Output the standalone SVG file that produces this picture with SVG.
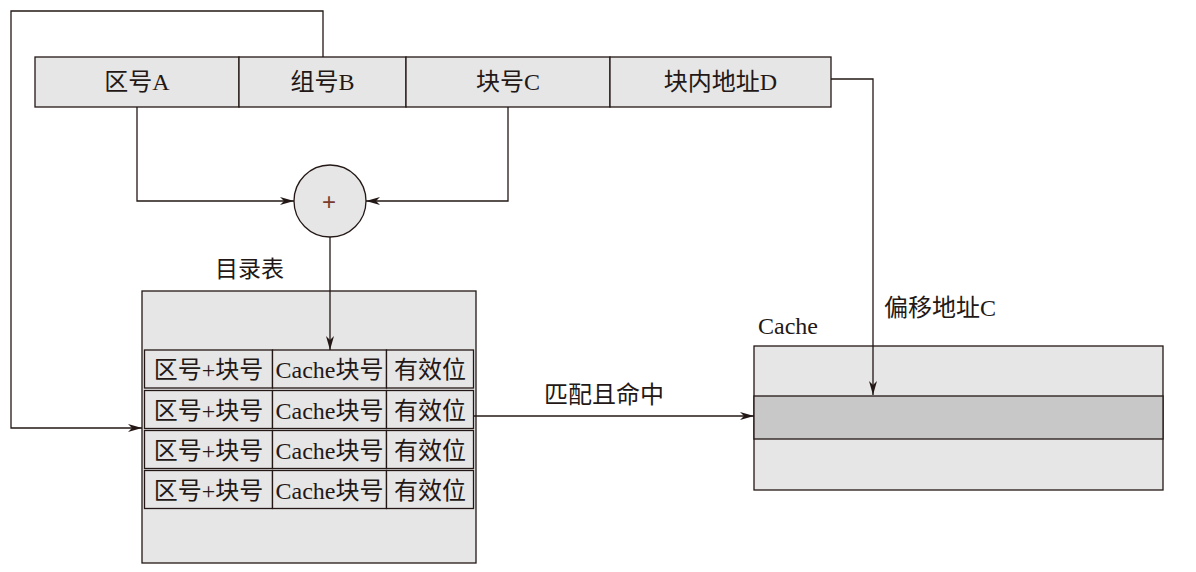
<svg xmlns="http://www.w3.org/2000/svg" width="1196" height="572" viewBox="0 0 1196 572">
<style>
.box{fill:#e6e6e6;stroke:#231815;stroke-width:1.3}
.dark{fill:#c8c8c8;stroke:#231815;stroke-width:1.3}
.ln{fill:none;stroke:#231815;stroke-width:1.3}
text{font-family:"Liberation Serif","Noto Sans CJK SC",serif;font-size:24px;fill:#231815}
.c{text-anchor:middle}
</style>
<defs>
<marker id="arr" viewBox="0 0 14 8" refX="14" refY="4" markerWidth="14" markerHeight="8" markerUnits="userSpaceOnUse" orient="auto">
<path d="M0,0 L14,4 L0,8 L4,4 z" fill="#231815"/>
</marker>
</defs>
<rect x="0" y="0" width="1196" height="572" fill="#ffffff"/>
<g id="addr">
<rect class="box" x="35" y="57" width="204" height="50"/>
<rect class="box" x="239" y="57" width="167" height="50"/>
<rect class="box" x="406" y="57" width="204" height="50"/>
<rect class="box" x="610" y="57" width="221" height="50"/>
<text class="c" x="137" y="90">区号A</text>
<text class="c" x="322.5" y="90">组号B</text>
<text class="c" x="508" y="90">块号C</text>
<text class="c" x="720.5" y="90">块内地址D</text>
</g>
<g id="adder">
<circle class="box" cx="330" cy="201" r="36"/>
<text class="c" x="329" y="210" style="font-family:'Liberation Sans',sans-serif;font-size:24px;fill:#7a3b2e">+</text>
</g>
<g id="dir">
<text x="215" y="277" style="font-size:23px">目录表</text>
<rect class="box" x="142" y="291" width="334" height="272"/>
<g id="row1">
<rect class="box" x="144.5" y="350" width="128" height="38"/><rect class="box" x="272.5" y="350" width="114" height="38"/><rect class="box" x="386.5" y="350" width="87" height="38"/>
<text class="c" x="208.5" y="378">区号+块号</text><text class="c" x="329.5" y="378">Cache块号</text><text class="c" x="430" y="378">有效位</text>
</g>
<g id="row2">
<rect class="box" x="144.5" y="390.5" width="128" height="38"/><rect class="box" x="272.5" y="390.5" width="114" height="38"/><rect class="box" x="386.5" y="390.5" width="87" height="38"/>
<text class="c" x="208.5" y="418.5">区号+块号</text><text class="c" x="329.5" y="418.5">Cache块号</text><text class="c" x="430" y="418.5">有效位</text>
</g>
<g id="row3">
<rect class="box" x="144.5" y="430.5" width="128" height="38"/><rect class="box" x="272.5" y="430.5" width="114" height="38"/><rect class="box" x="386.5" y="430.5" width="87" height="38"/>
<text class="c" x="208.5" y="458.5">区号+块号</text><text class="c" x="329.5" y="458.5">Cache块号</text><text class="c" x="430" y="458.5">有效位</text>
</g>
<g id="row4">
<rect class="box" x="144.5" y="470.5" width="128" height="38"/><rect class="box" x="272.5" y="470.5" width="114" height="38"/><rect class="box" x="386.5" y="470.5" width="87" height="38"/>
<text class="c" x="208.5" y="498.5">区号+块号</text><text class="c" x="329.5" y="498.5">Cache块号</text><text class="c" x="430" y="498.5">有效位</text>
</g>
</g>
<g id="cache">
<text x="758" y="334">Cache</text>
<rect class="box" x="754" y="346" width="409" height="144"/>
<rect class="dark" x="754" y="396" width="409" height="43"/>
</g>
<g id="connectors">
<path class="ln" d="M137,107 V201 H294" marker-end="url(#arr)"/>
<path class="ln" d="M508,107 V201 H366" marker-end="url(#arr)"/>
<path class="ln" d="M330,237 V350" marker-end="url(#arr)"/>
<path class="ln" d="M323,57 V11 H11 V428 H142" marker-end="url(#arr)"/>
<path class="ln" d="M473.5,416 H754" marker-end="url(#arr)"/>
<path class="ln" d="M831,79 H873 V395" marker-end="url(#arr)"/>
<text x="544" y="403">匹配且命中</text>
<text x="884" y="316">偏移地址C</text>
</g>
</svg>
